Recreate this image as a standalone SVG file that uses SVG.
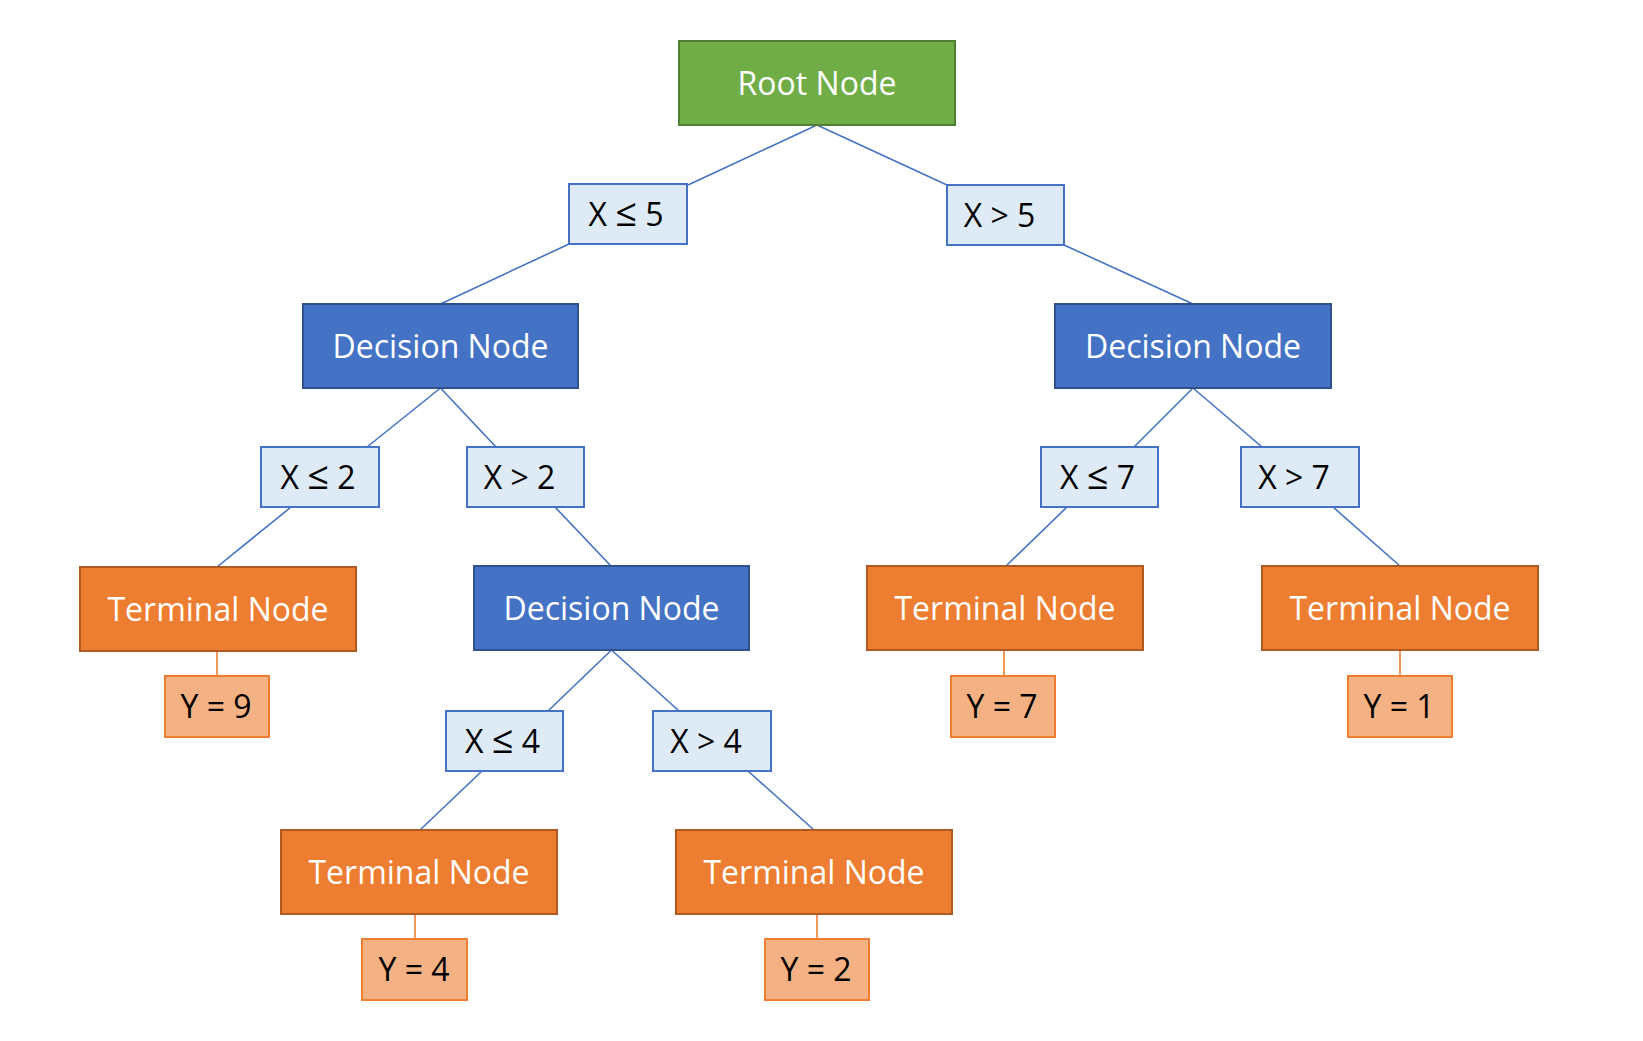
<svg xmlns="http://www.w3.org/2000/svg" width="1643" height="1041" viewBox="0 0 1643 1041">
<style>
  .root{fill:#70AD47;stroke:#507E32;stroke-width:2}
  .dec{fill:#4472C4;stroke:#2F528F;stroke-width:2}
  .term{fill:#ED7D31;stroke:#AE5A21;stroke-width:2}
  .cond{fill:#DEEBF7;stroke:#4472C4;stroke-width:2}
  .leaf{fill:#F4B183;stroke:#ED7D31;stroke-width:2}
  .lt{font-family:"Open Sans","Noto Sans",sans-serif;font-size:32px;fill:#FFFFFF;text-anchor:middle}
  .dt{font-family:"Open Sans","Noto Sans",sans-serif;font-size:32px;fill:#000000;text-anchor:middle}
  .le{font-size:38px}
  .cb{stroke:#4472C4;stroke-width:1.6;fill:none}
  .co{stroke:#ED7D31;stroke-width:1.6;fill:none}
</style>
<rect width="1643" height="1041" fill="#FFFFFF"/>
<g id="connectors">
  <line class="cb" x1="817" y1="125" x2="688" y2="185"/>
  <line class="cb" x1="817" y1="125" x2="947" y2="185"/>
  <line class="cb" x1="569" y1="244" x2="440.5" y2="304"/>
  <line class="cb" x1="1064" y1="245" x2="1193" y2="304"/>
  <line class="cb" x1="440.5" y1="388" x2="367" y2="447"/>
  <line class="cb" x1="440.5" y1="388" x2="496" y2="447"/>
  <line class="cb" x1="291" y1="507" x2="217" y2="567"/>
  <line class="cb" x1="555" y1="507" x2="611" y2="566"/>
  <line class="co" x1="217" y1="651" x2="217" y2="676"/>
  <line class="cb" x1="611.5" y1="650" x2="548" y2="711"/>
  <line class="cb" x1="611.5" y1="650" x2="679" y2="711"/>
  <line class="cb" x1="482" y1="771" x2="420" y2="830"/>
  <line class="cb" x1="748" y1="771" x2="814" y2="830"/>
  <line class="co" x1="415" y1="914" x2="415" y2="939"/>
  <line class="co" x1="817" y1="914" x2="817" y2="939"/>
  <line class="cb" x1="1193" y1="388" x2="1134" y2="447"/>
  <line class="cb" x1="1193" y1="388" x2="1262" y2="447"/>
  <line class="cb" x1="1067" y1="507" x2="1006" y2="566"/>
  <line class="cb" x1="1333" y1="507" x2="1400" y2="566"/>
  <line class="co" x1="1004" y1="650" x2="1004" y2="676"/>
  <line class="co" x1="1400" y1="650" x2="1400" y2="676"/>
</g>
<g id="root-node"><rect class="root" x="679" y="41" width="276" height="84"/><text class="lt" x="817" y="94.5">Root Node</text></g>
<g id="cond-x-le-5"><rect class="cond" x="569" y="184" width="118" height="60"/><text class="dt" x="626" y="225.5">X <tspan class="le">≤</tspan> 5</text></g>
<g id="cond-x-gt-5"><rect class="cond" x="947" y="185" width="117" height="60"/><text class="dt" x="999.5" y="226.5">X &gt; 5</text></g>
<g id="decision-left"><rect class="dec" x="303" y="304" width="275" height="84"/><text class="lt" x="440.5" y="357.5">Decision Node</text></g>
<g id="decision-right"><rect class="dec" x="1055" y="304" width="276" height="84"/><text class="lt" x="1193" y="357.5">Decision Node</text></g>
<g id="cond-x-le-2"><rect class="cond" x="261" y="447" width="118" height="60"/><text class="dt" x="318" y="488.5">X <tspan class="le">≤</tspan> 2</text></g>
<g id="cond-x-gt-2"><rect class="cond" x="467" y="447" width="117" height="60"/><text class="dt" x="519.5" y="488.5">X &gt; 2</text></g>
<g id="cond-x-le-7"><rect class="cond" x="1041" y="447" width="117" height="60"/><text class="dt" x="1097.5" y="488.5">X <tspan class="le">≤</tspan> 7</text></g>
<g id="cond-x-gt-7"><rect class="cond" x="1241" y="447" width="118" height="60"/><text class="dt" x="1294" y="488.5">X &gt; 7</text></g>
<g id="terminal-1"><rect class="term" x="80" y="567" width="276" height="84"/><text class="lt" x="218" y="620.5">Terminal Node</text></g>
<g id="decision-mid"><rect class="dec" x="474" y="566" width="275" height="84"/><text class="lt" x="611.5" y="619.5">Decision Node</text></g>
<g id="terminal-4"><rect class="term" x="867" y="566" width="276" height="84"/><text class="lt" x="1005" y="619.5">Terminal Node</text></g>
<g id="terminal-5"><rect class="term" x="1262" y="566" width="276" height="84"/><text class="lt" x="1400" y="619.5">Terminal Node</text></g>
<g id="leaf-y9"><rect class="leaf" x="165" y="676" width="104" height="61"/><text class="dt" x="216" y="718">Y = 9</text></g>
<g id="leaf-y7"><rect class="leaf" x="951" y="676" width="104" height="61"/><text class="dt" x="1002" y="718">Y = 7</text></g>
<g id="leaf-y1"><rect class="leaf" x="1348" y="676" width="104" height="61"/><text class="dt" x="1399" y="718">Y = 1</text></g>
<g id="cond-x-le-4"><rect class="cond" x="446" y="711" width="117" height="60"/><text class="dt" x="502.5" y="752.5">X <tspan class="le">≤</tspan> 4</text></g>
<g id="cond-x-gt-4"><rect class="cond" x="653" y="711" width="118" height="60"/><text class="dt" x="706" y="752.5">X &gt; 4</text></g>
<g id="terminal-2"><rect class="term" x="281" y="830" width="276" height="84"/><text class="lt" x="419" y="883.5">Terminal Node</text></g>
<g id="terminal-3"><rect class="term" x="676" y="830" width="276" height="84"/><text class="lt" x="814" y="883.5">Terminal Node</text></g>
<g id="leaf-y4"><rect class="leaf" x="362" y="939" width="105" height="61"/><text class="dt" x="414" y="981">Y = 4</text></g>
<g id="leaf-y2"><rect class="leaf" x="765" y="939" width="104" height="61"/><text class="dt" x="816" y="981">Y = 2</text></g>
</svg>
